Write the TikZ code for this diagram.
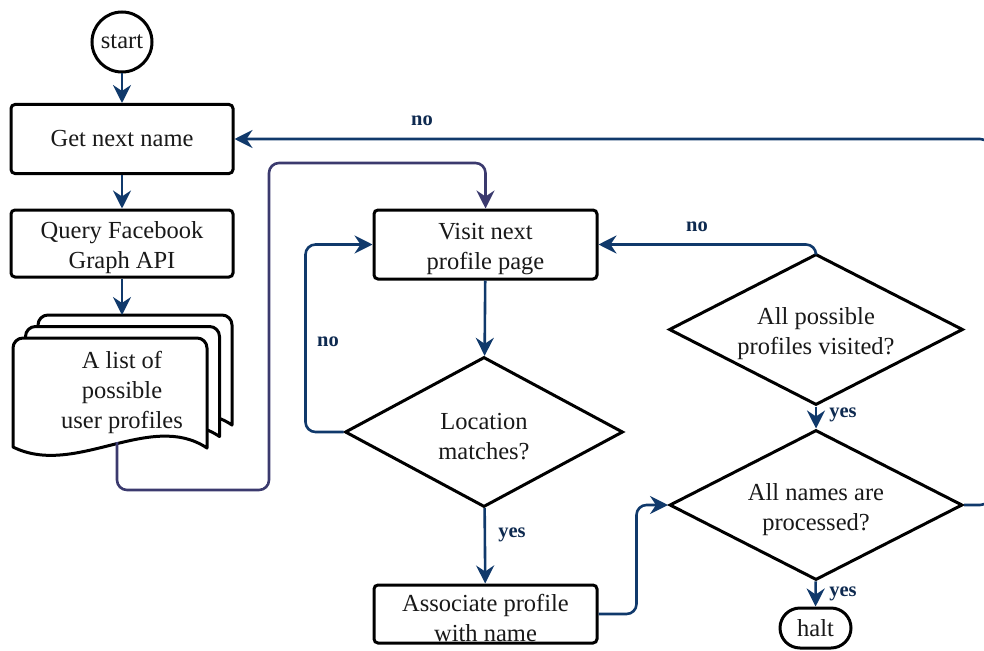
\documentclass[tikz,border=0pt]{standalone}
\usepackage{fontspec}
\setmainfont{Liberation Serif}
\usetikzlibrary{shapes.geometric,arrows.meta,calc}
\definecolor{flow}{HTML}{10396B}
\definecolor{flowdoc}{HTML}{3B3A6E}
\definecolor{lbl}{HTML}{0E2A50}
% taller first line, so two-line texts sit a little lower in their shapes
\newcommand{\lowr}{\rule{0pt}{26pt}}
\tikzset{
  txt/.style={font=\fontsize{24.5}{30}\selectfont, align=center, text=black!90},
  procbox/.style={txt, draw=black, line width=3pt, rounded corners=4pt, fill=white, inner sep=0pt},
  decision/.style={txt, draw=black, line width=3pt, diamond, fill=white, inner sep=0pt},
  terminal/.style={txt, draw=black, line width=3pt, fill=white, inner sep=0pt},
  conn/.style={draw=flow, line width=2.6pt, rounded corners=10pt,
    -{Stealth[length=18pt,width=18pt,inset=6pt]}},
  docconn/.style={conn, draw=flowdoc},
  lab/.style={font=\fontsize{20.5}{24}\selectfont\bfseries, text=lbl, inner sep=0pt},
  sheet/.style={draw=black, line width=3pt, fill=white, line join=round},
}
% one sheet of the stacked document symbol (y axis points down)
\newcommand{\docsheet}[2]{%
  \draw[sheet, shift={(#1,#2)}]
    (207,448) .. controls (150,410) and (75,478) .. (13,447)
    -- (13,348) arc[start angle=180, end angle=270, radius=10]
    -- (197,338) arc[start angle=270, end angle=360, radius=10] -- cycle;}
\begin{document}
\begin{tikzpicture}[x=1pt, y=-1pt]
\useasboundingbox (0,0) rectangle (984,650);

% terminals and process boxes
\node[terminal, circle, minimum size=60pt] (start) at (122,42) {start};
\node[procbox, minimum width=222pt, minimum height=69pt] (get) at (122,139) {Get next name};
\node[procbox, minimum width=222pt, minimum height=67pt] (query) at (122,243.5) {\lowr Query Facebook\\Graph API};

% stacked document
\docsheet{25}{-23}
\docsheet{12.5}{-11.5}
\docsheet{0}{0}
\node[txt] (doc) at (122,392) {A list of\\possible\\user profiles};
\coordinate (docTop) at (122,315);
\coordinate (docOut) at (117,442);

\node[procbox, minimum width=223pt, minimum height=69pt] (visit) at (485.5,244.5) {\lowr Visit next\\profile page};
\node[decision, aspect=1.853, minimum width=278pt, minimum height=150pt] (loc) at (484,432) {\lowr Location\\matches?};
\node[procbox, minimum width=223pt, minimum height=58pt] (assoc) at (485.5,614) {\lowr Associate profile\\with name};
\node[decision, aspect=1.947, minimum width=294pt, minimum height=151pt] (poss) at (816,329.5) {\lowr All possible\\profiles visited?};
\node[decision, aspect=1.953, minimum width=293pt, minimum height=150pt] (names) at (816,505) {\lowr All names are\\processed?};
\node[terminal, rounded corners=20pt, minimum width=71pt, minimum height=40pt] (halt) at (815.5,628) {halt};

% connectors
\draw[conn] (start) -- (get);
\draw[conn] (get) -- (query);
\draw[conn] (query) -- (docTop);
\draw[docconn] (docOut) -- ++(0,48) -| (269,163) -| (visit.north);
\draw[conn] (visit) -- (loc);
\draw[conn] (loc.west) -- ++(-38,0) |- (visit.west);
\draw[conn] (loc) -- (assoc);
\draw[conn] (assoc.east) -- ++(38,0) |- (names.west);
\draw[conn] (poss.north) |- (visit.east);
\draw[conn] (poss) -- (names);
\draw[conn] (names) -- (halt);
\draw[conn] (names.east) -- ++(26,0) |- (get.east);

% branch labels
\node[lab] (noGet) at (422,121) {no};
\node[lab] (noLoc) at (328,342) {no};
\node[lab] (noPoss) at (697,227) {no};
\node[lab] (yesLoc) at (512,535) {yes};
\node[lab] (yesPoss) at (843,415) {yes};
\node[lab] (yesNames) at (843,594) {yes};
\end{tikzpicture}
\end{document}
